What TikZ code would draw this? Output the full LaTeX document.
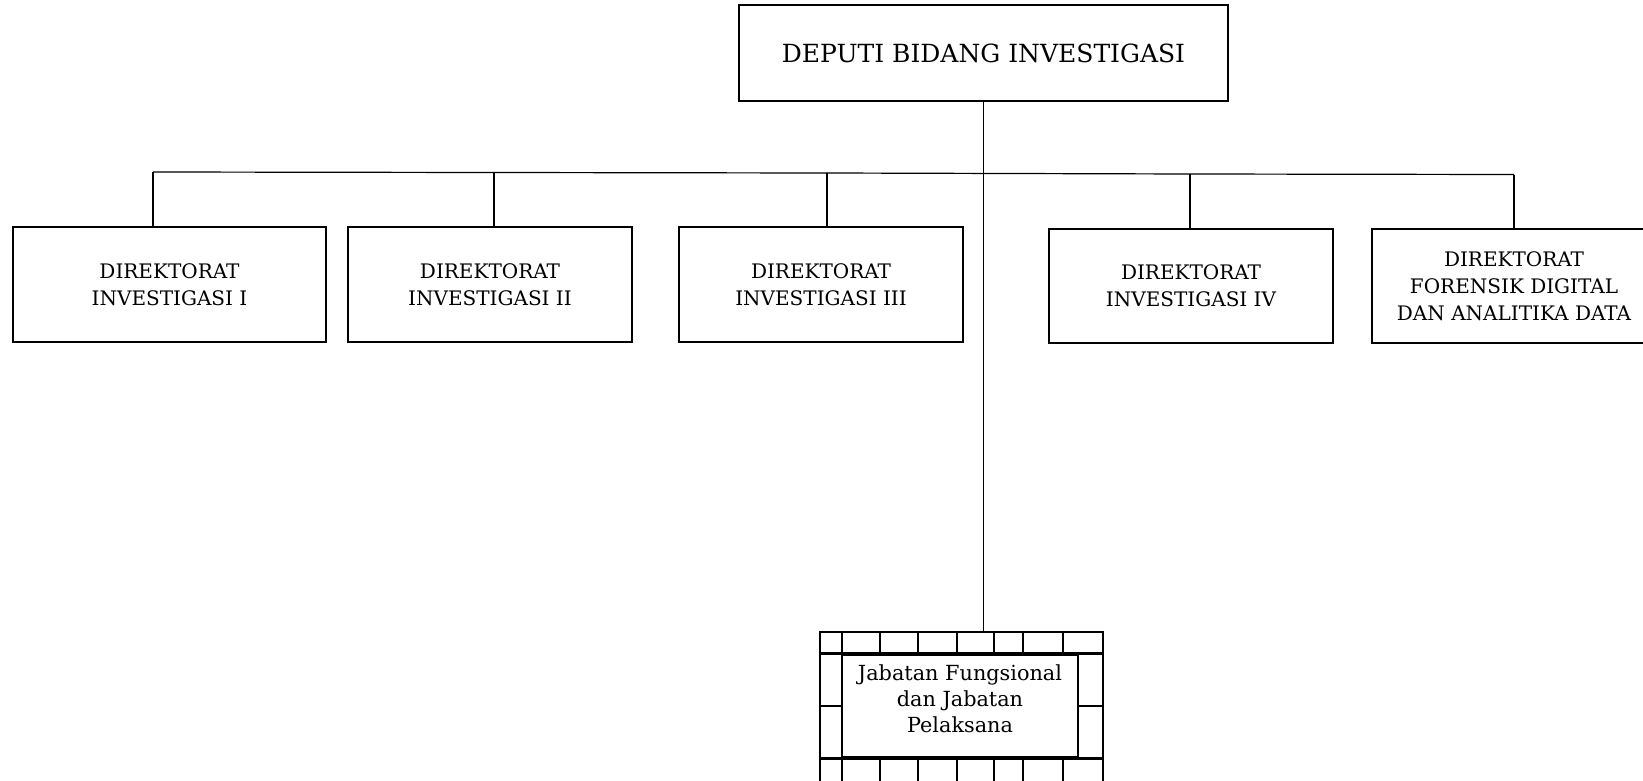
\documentclass[tikz,border=0pt]{standalone}
\usepackage{fontspec}
\setmainfont{DejaVu Serif}

\begin{document}
\begin{tikzpicture}[x=0.5pt, y=-0.5pt,
        dirbox/.style={draw, line width=1.4pt, align=center, inner sep=0pt, font=\fontsize{10}{13.5}\selectfont},
        link/.style={line width=0.6pt},
        cell/.style={line width=1.3pt}]
        \useasboundingbox (0,0) rectangle (1643,781);
        \node[dirbox, minimum width=244.5pt, minimum height=48pt, font=\fontsize{12.5}{15}\selectfont] (deputi) at (983.5,53) {DEPUTI BIDANG INVESTIGASI};
        \node[dirbox, minimum width=156.5pt, minimum height=57.5pt] (dir1) at (169.5,284.5) {DIREKTORAT\\INVESTIGASI I};
        \node[dirbox, minimum width=142pt, minimum height=57.5pt] (dir2) at (490,284.5) {DIREKTORAT\\INVESTIGASI II};
        \node[dirbox, minimum width=142pt, minimum height=57.5pt] (dir3) at (821,284.5) {DIREKTORAT\\INVESTIGASI III};
        \node[dirbox, minimum width=142pt, minimum height=57pt] (dir4) at (1191,286) {DIREKTORAT\\INVESTIGASI IV};
        \node[dirbox, minimum width=142pt, minimum height=57pt] (dir5) at (1514,286) {DIREKTORAT\\FORENSIK DIGITAL\\DAN ANALITIKA DATA};
        % garis penghubung
        \coordinate (b1) at (153,172);
        \coordinate (b2) at (494,172.5);
        \coordinate (b3) at (827,173);
        \coordinate (b4) at (1190,174);
        \coordinate (b5) at (1514,174.5);
        \draw[link] (b1) to (b2) to (b3) to (b4) to (b5);
        \draw[link] (b1) to (b1 |- dir1.north);
        \draw[link] (b2) to (b2 |- dir2.north);
        \draw[link] (b3) to (b3 |- dir3.north);
        \draw[link] (b4) to (b4 |- dir4.north);
        \draw[link] (b5) to (b5 |- dir5.north);
        % jabatan fungsional
        \node[draw, cell, minimum width=141.5pt, minimum height=76pt] (frame) at (961.5,708) {};
        \node[draw, cell, minimum width=118pt, minimum height=51pt] (jfbox) at (960,706) {};
        \node[align=center, inner sep=0pt, font=\fontsize{10.4}{13}\selectfont] (jf) at (960,699) {Jabatan Fungsional\\dan Jabatan\\Pelaksana};
        \draw[cell] (frame.west |- jfbox.north) to (frame.east |- jfbox.north);
        \draw[cell] (frame.west |- jfbox.south) to (frame.east |- jfbox.south);
        \foreach \x in {842,880,918,957,994,1023,1063} {
            \draw[cell] (\x,632) to (\x,655);
            \draw[cell] (\x,757) to (\x,784);
        }
        \draw[cell] (frame.west |- jfbox.west) to (jfbox.west);
        \draw[cell] (jfbox.east) to (frame.east |- jfbox.east);
        \draw[link] (deputi.south) to (deputi.south |- frame.north);
    \end{tikzpicture}
\end{document}
